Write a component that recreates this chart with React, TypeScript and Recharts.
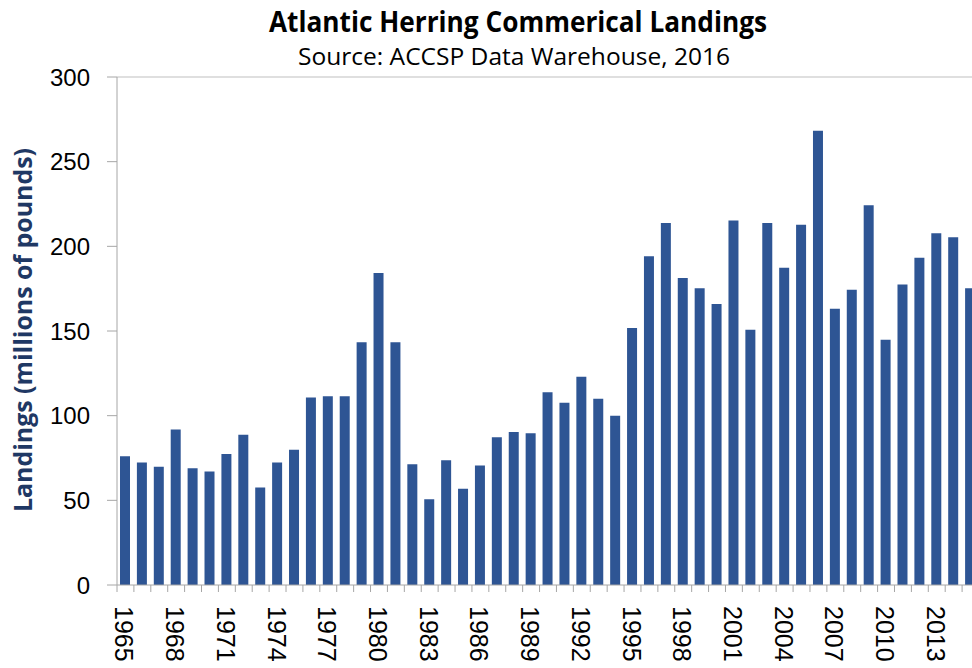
import React from 'react';
import { BarChart, Bar, XAxis, YAxis, ReferenceLine } from 'recharts';

const years = [
    1965, 1966, 1967, 1968, 1969, 1970, 1971, 1972, 1973, 1974, 1975, 1976, 1977,
    1978, 1979, 1980, 1981, 1982, 1983, 1984, 1985, 1986, 1987, 1988, 1989, 1990,
    1991, 1992, 1993, 1994, 1995, 1996, 1997, 1998, 1999, 2000, 2001, 2002, 2003,
    2004, 2005, 2006, 2007, 2008, 2009, 2010, 2011, 2012, 2013, 2014, 2015,
];

// millions of pounds
const landings = [
    76, 72.3, 69.9, 91.9, 69, 67, 77.4, 88.8, 57.6, 72.3, 79.8, 110.8, 111.4,
    111.4, 143.4, 184.3, 143.4, 71.3, 50.7, 73.7, 56.8, 70.5, 87.2, 90.4, 89.6, 113.8,
    107.7, 123, 110, 100, 151.7, 194.1, 213.8, 181.3, 175.2, 166, 215.3, 150.7, 213.8,
    187.4, 212.8, 268.2, 163.1, 174.3, 224.2, 144.8, 177.4, 193.3, 207.7, 205.3, 175.2,
];

const labelYears = [1965, 1968, 1971, 1974, 1977, 1980, 1983, 1986, 1989, 1992, 1995, 1998, 2001, 2004, 2007, 2010, 2013];
const yTicks = [0, 50, 100, 150, 200, 250, 300];

const data = years.map((year, i) => ({ year, value: landings[i] }));

const CHART_W = 1000;
const CHART_H = 668;
const PLOT_LEFT = 117;
const PLOT_RIGHT = 979;
const STEP = (PLOT_RIGHT - PLOT_LEFT) / years.length;
const AXIS_GRAY = '#a6a6a6';

function YearTick(props: any) {
    const { x, y, payload, index } = props;
    const half = STEP / 2;
    const show = labelYears.includes(payload.value);
    return (
        <g>
            {index === 0 && <line x1={x - half} x2={x - half} y1={y} y2={y + 7} stroke={AXIS_GRAY} />}
            <line x1={x + half} x2={x + half} y1={y} y2={y + 7} stroke={AXIS_GRAY} />
            {show && (
                <text
                    transform={`translate(${x - 1},${y + 21}) rotate(90)`}
                    textAnchor="start"
                    dominantBaseline="central"
                    fontSize={25}
                    fontFamily="Liberation Sans, Arial, sans-serif"
                    fill="#000"
                >
                    {payload.value}
                </text>
            )}
        </g>
    );
}

export default function App() {
    return (
        <div style={{ position: 'fixed', left: 0, top: 0, width: 972, height: 668, overflow: 'hidden', background: '#fff' }}>
            <BarChart
                width={CHART_W}
                height={CHART_H}
                data={data}
                margin={{ top: 77, right: CHART_W - PLOT_RIGHT, left: 0, bottom: 0 }}
            >
                <ReferenceLine y={300} stroke="#bfbfbf" />
                <XAxis
                    dataKey="year"
                    interval={0}
                    height={83}
                    tickSize={0}
                    tickMargin={0}
                    tickLine={false}
                    axisLine={{ stroke: AXIS_GRAY }}
                    tick={<YearTick />}
                />
                <YAxis
                    width={PLOT_LEFT}
                    domain={[0, 300]}
                    ticks={yTicks}
                    tickSize={10}
                    tickMargin={17}
                    axisLine={{ stroke: AXIS_GRAY }}
                    tickLine={{ stroke: AXIS_GRAY }}
                    tick={{ fontSize: 24, fill: '#000', fontFamily: 'Liberation Sans, Arial, sans-serif' }}
                />
                <Bar dataKey="value" fill="#2e5594" barSize={10} isAnimationActive={false} />
            </BarChart>
            <svg
                width={972}
                height={668}
                style={{ position: 'absolute', left: 0, top: 0, pointerEvents: 'none' }}
            >
                <text
                    x={518}
                    y={32}
                    textAnchor="middle"
                    fontSize={28}
                    fontWeight="bold"
                    fontFamily="Open Sans, sans-serif"
                    textLength={498}
                    lengthAdjust="spacingAndGlyphs"
                    fill="#000"
                >
                    Atlantic Herring Commerical Landings
                </text>
                <text
                    x={514}
                    y={65}
                    textAnchor="middle"
                    fontSize={24}
                    fontFamily="Open Sans, sans-serif"
                    textLength={432}
                    lengthAdjust="spacingAndGlyphs"
                    fill="#000"
                >
                    Source: ACCSP Data Warehouse, 2016
                </text>
                <text
                    transform="translate(32,330) rotate(-90)"
                    textAnchor="middle"
                    fontSize={25}
                    fontWeight="bold"
                    fontFamily="Open Sans, sans-serif"
                    textLength={364}
                    lengthAdjust="spacingAndGlyphs"
                    fill="#1f3864"
                >
                    Landings (millions of pounds)
                </text>
            </svg>
        </div>
    );
}
